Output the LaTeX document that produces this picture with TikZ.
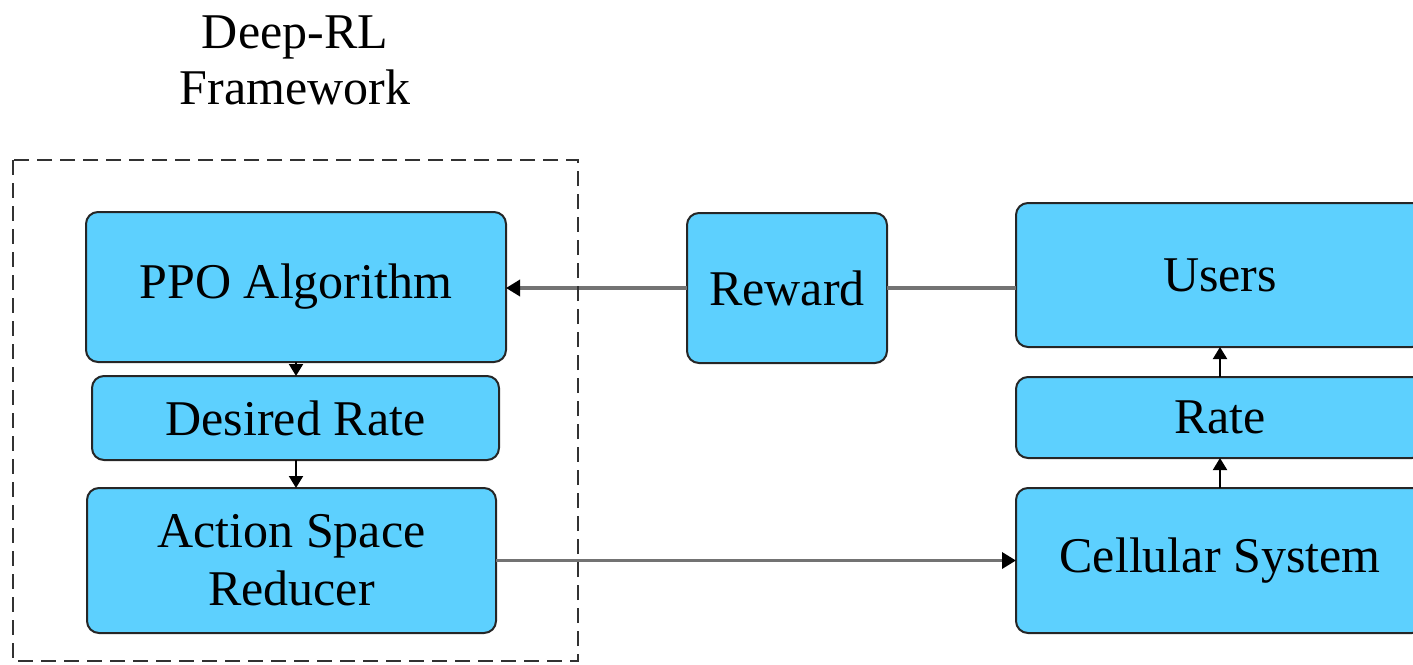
\documentclass[tikz,border=0pt]{standalone}
\usepackage{fontspec}
\setmainfont{Liberation Serif}
\usetikzlibrary{arrows.meta}
\definecolor{boxfill}{RGB}{93,208,254}
\definecolor{connline}{RGB}{115,115,115}
\definecolor{framecol}{RGB}{50,50,50}
\begin{document}
\begin{tikzpicture}[x=0.5pt,y=-0.5pt,
  blk/.style={draw=black!85, line width=1pt, fill=boxfill, rounded corners=6pt,
    inner sep=0pt, outer sep=0pt, align=center,
    font=\fontsize{25}{29}\selectfont},
  conn/.style={draw=connline, line width=1.7pt},
  htip/.style={-{Triangle[length=7pt,width=8pt,color=black,fill=black]}},
  vlink/.style={draw=black, line width=1pt, -{Triangle[length=6pt,width=7pt]}},
  frm/.style={draw=framecol, line width=1.2pt, dash pattern=on 7.5pt off 4pt}]
\useasboundingbox (0,0) rectangle (1413,664);

% title of the framework
\node[align=center, font=\fontsize{25}{28}\selectfont] (title) at (295,60) {Deep-RL\\Framework};

% left column: agent side
\node[blk, minimum width=210pt, minimum height=75pt] (ppo) at (296,287) {PPO Algorithm};
\node[blk, minimum width=203.5pt, minimum height=42pt] (des) at (295.5,418) {Desired Rate};
\node[blk, minimum width=204.5pt, minimum height=72.5pt] (asr) at (291.5,560.5) {Action Space\\Reducer};

% middle: reward
\node[blk, minimum width=100pt, minimum height=75pt] (rew) at (787,288) {Reward};

% right column: environment side
\node[blk, minimum width=204pt, minimum height=72pt] (usr) at (1220,275) {Users};
\node[blk, minimum width=204pt, minimum height=40.5pt] (rate) at (1220,417.5) {Rate};
\node[blk, minimum width=204pt, minimum height=72.5pt] (cell) at (1220,560.5) {Cellular System};

% connectors
\draw[conn] (rew.east) -- (rew.east -| usr.west);
\draw[conn, htip] (rew.west) -- (rew.west -| ppo.east);
\draw[conn, htip] (asr.east) -- (asr.east -| cell.west);
\draw[vlink] (ppo.south) -- (ppo.south |- des.north);
\draw[vlink] (des.south -| ppo.south) -- (ppo.south |- asr.north);
\draw[vlink] (cell.north) -- (rate.south);
\draw[vlink] (rate.north) -- (usr.south);

% dashed framework boundary
\coordinate (frameNW) at (13,160);
\coordinate (frameSE) at (578,661);
\draw[frm] (frameNW) rectangle (frameSE);
\end{tikzpicture}
\end{document}
